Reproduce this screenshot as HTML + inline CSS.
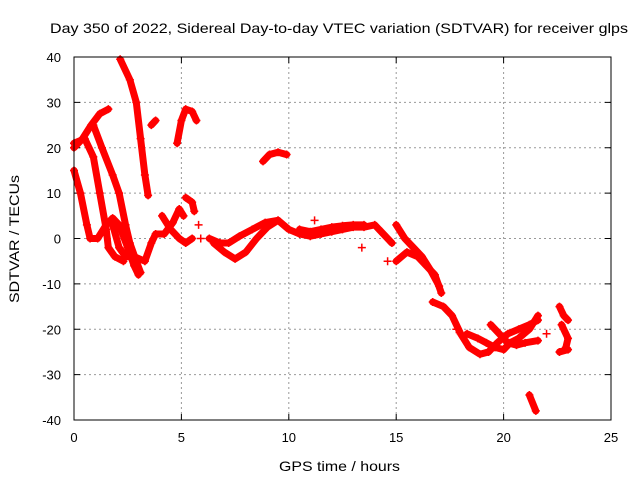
<!DOCTYPE html>
<html><head><meta charset="utf-8"><style>
body{margin:0;background:#fff}
svg text{font-family:"Liberation Sans",sans-serif;font-size:13px;fill:#000}
</style></head><body>
<svg id="c" width="640" height="480">
<rect width="640" height="480" fill="#fff"/>
<text x="50" y="33" textLength="578" lengthAdjust="spacingAndGlyphs" style="font-size:14px">Day 350 of 2022, Sidereal Day-to-day VTEC variation (SDTVAR) for receiver glps</text>
<text x="279" y="471" textLength="121" lengthAdjust="spacingAndGlyphs" style="font-size:14px">GPS time / hours</text>
<text transform="translate(19,303) rotate(-90)" textLength="128" lengthAdjust="spacingAndGlyphs" style="font-size:14px">SDTVAR / TECUs</text>
<g id="grid"></g><g id="marks"></g>
<rect x="74" y="57" width="537" height="363" fill="none" stroke="#000"/>
</svg>
<script>
const xTicks=[0,5,10,15,20,25];
const yTicks=[-40,-30,-20,-10,0,10,20,30,40];
const tracks=[
[[0,15],[0.3,10],[0.6,3],[0.75,0],[1.1,0],[1.5,3],[1.8,4.5],[2.1,3],[2.5,-2],[2.8,-6],[3.0,-8]],
[[0,21],[0.5,22],[0.9,18],[1.2,10],[1.5,2],[1.6,-2],[1.9,-4],[2.3,-5]],
[[0,20],[0.4,22],[0.8,25],[1.2,27.5],[1.6,28.5]],
[[0.9,25],[1.3,20],[1.8,14],[2.1,10],[2.4,3],[2.6,-1],[2.9,-5],[3.1,-7.5]],
[[2.15,39.5],[2.6,35],[2.9,30],[3.1,22],[3.3,14],[3.45,9.5]],
[[1.8,3],[2.1,-2],[2.4,-4],[2.8,-4],[3.3,-5],[3.6,-1],[3.8,1],[4.2,1],[4.6,3.5],[4.9,6.5],[5.1,5]],
[[4.8,21],[5.0,26],[5.2,28.5],[5.5,28],[5.7,26]],
[[4.1,5],[4.5,2],[4.9,0],[5.2,-1],[5.5,0]],
[[5.2,9],[5.5,8],[5.6,6]],
[[3.6,25],[3.8,26]],
[[8.8,17],[9.1,18.5],[9.5,19],[9.9,18.5]],
[[6.3,0],[6.8,-1],[7.2,-1],[7.7,0.5],[8.3,2],[8.9,3.5],[9.5,4],[10,2],[10.5,1],[11,0.5],[11.5,1],[12,1.5],[12.5,2],[13,2.5],[13.5,2.5],[14,3],[14.4,1],[14.8,-1]],
[[10.5,2],[11,1.5],[11.5,2],[12,2.5],[12.5,2.8],[13,3],[13.5,3]],
[[6.5,-1],[7,-3],[7.5,-4.5],[8,-3],[8.5,0],[9,2.5],[9.5,4]],
[[15,3],[15.4,0],[15.8,-2],[16.2,-4],[16.6,-7],[17,-10.5]],
[[15,-5],[15.5,-3],[16,-4],[16.4,-6],[16.8,-8],[17.1,-12]],
[[16.7,-14],[17.2,-15],[17.6,-17],[18,-21],[18.4,-24],[18.9,-25.5],[19.3,-25],[19.7,-23],[20.2,-21],[20.7,-20],[21.2,-19],[21.6,-18]],
[[18.3,-21],[18.8,-22],[19.2,-23],[19.6,-24],[20,-24.5],[20.3,-23],[20.7,-22],[21.2,-20],[21.6,-17]],
[[19.4,-19],[19.8,-21],[20.2,-23],[20.6,-23.5],[21,-23],[21.6,-22.5]],
[[21.2,-34.5],[21.5,-38]],
[[22.6,-15],[22.8,-17],[23,-18]],
[[22.7,-19],[23,-22],[22.9,-24]],
[[22.6,-25],[23,-24.5]]
];
const singles=[[11.2,4],[13.4,-2],[14.6,-5],[22,-21],[17.8,-20],[5.8,3],[5.9,0]];
const X=t=>74+t*537/25, Y=v=>238.5-v*363/80;
const NS='http://www.w3.org/2000/svg';
const grid=document.getElementById('grid'), marks=document.getElementById('marks');
function mk(tag,attrs,parent){const e=document.createElementNS(NS,tag);for(const k in attrs)e.setAttribute(k,attrs[k]);parent.appendChild(e);return e;}
xTicks.forEach(t=>{
  if(t>0&&t<25){const g=mk('line',{x1:X(t),x2:X(t),y1:57,y2:420,stroke:'#999','stroke-dasharray':'2,3'},grid);
  
  }
  mk('line',{x1:X(t),x2:X(t),y1:420,y2:414,stroke:'#000'},grid);
  mk('line',{x1:X(t),x2:X(t),y1:57,y2:63,stroke:'#000'},grid);
  const l=mk('text',{x:X(t),y:442,'text-anchor':'middle'},grid);l.textContent=t;
  
  
});
yTicks.forEach(v=>{
  if(v>-40&&v<40){const g=mk('line',{x1:74,x2:611,y1:Y(v),y2:Y(v),stroke:'#999','stroke-dasharray':'2,3'},grid);
  
  }
  mk('line',{x1:74,x2:80,y1:Y(v),y2:Y(v),stroke:'#000'},grid);
  mk('line',{x1:605,x2:611,y1:Y(v),y2:Y(v),stroke:'#000'},grid);
  const l=mk('text',{x:61,y:Y(v)+5,'text-anchor':'end'},grid);l.textContent=v;
  
  
});
function plus(t,v){
  const p=mk('path',{d:`M${X(t)-4},${Y(v)}h8M${X(t)},${Y(v)-4}v8`,stroke:'#f00','stroke-width':1.5},marks);
  
  
}
tracks.forEach(tr=>{
  const pl=mk('polyline',{points:tr.map(p=>X(p[0])+','+Y(p[1])).join(' '),fill:'none',stroke:'#f00','stroke-width':7,'stroke-linejoin':'round','stroke-linecap':'round'},marks);
  
  
  tr.forEach(p=>plus(p[0],p[1]));
});
singles.forEach(p=>plus(p[0],p[1]));
</script>
</body></html>
